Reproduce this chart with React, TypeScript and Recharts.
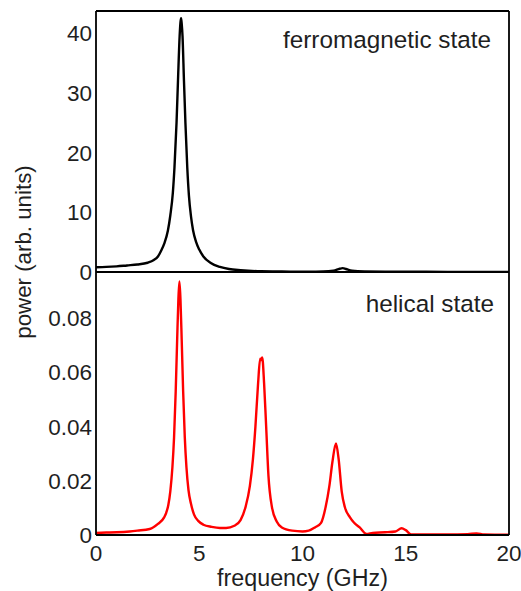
import { LineChart, Line, XAxis, YAxis } from 'recharts'

// ferromagnetic state spectrum (power vs GHz)
const ferroFreq = [
  0, 0.5, 1, 1.5, 2, 2.5, 2.8, 3.0, 3.16, 3.3, 3.48, 3.6, 3.72, 3.8, 3.9, 3.97, 4.05, 4.09, 4.12, 4.15,
  4.19, 4.26, 4.33, 4.42, 4.5, 4.6, 4.7, 4.85, 5.0, 5.2, 5.56, 6.0, 6.44, 7, 8, 9, 10, 11, 11.5, 11.8,
  11.95, 12.1, 12.4, 13, 14, 16, 18, 20,
]
const ferroPower = [
  0.8, 0.85, 0.95, 1.1, 1.25, 1.55, 2.0, 2.6, 3.6, 4.7, 6.9, 9.5, 13.2, 17.5, 25, 32, 39.5, 41.8, 42.5, 41.6,
  39.5, 32, 25, 17.5, 12.8, 9.3, 7.0, 5.0, 3.75, 2.6, 1.5, 0.85, 0.5, 0.3, 0.12, 0.08, 0.06, 0.08, 0.2, 0.55,
  0.65, 0.5, 0.2, 0.08, 0.05, 0.03, 0.02, 0.02,
]

// helical state spectrum
const helicalFreq = [
  0, 0.5, 1, 1.63, 2, 2.6, 3.0, 3.3, 3.4, 3.5, 3.6, 3.7, 3.78, 3.86, 3.93, 3.99, 4.04, 4.09, 4.15, 4.22,
  4.3, 4.38, 4.48, 4.6, 4.75, 4.95, 5.2, 5.6, 6.0, 6.3, 6.7, 7.0, 7.24, 7.45, 7.6, 7.72, 7.85, 7.95, 8.0, 8.05,
  8.14, 8.24, 8.35, 8.52, 8.75, 9.0, 9.5, 10, 10.3, 10.6, 10.9, 11.12, 11.3, 11.45, 11.62, 11.75, 11.9, 12.05, 12.3, 12.5,
  12.77, 13.1, 13.4, 14, 14.5, 14.8, 15.0, 15.26, 16, 17, 18, 18.43, 18.8, 20,
]
const helicalPower = [
  0.0008, 0.0009, 0.001, 0.0013, 0.0016, 0.0022, 0.0041, 0.0065, 0.0082, 0.011, 0.0162, 0.025, 0.036, 0.053, 0.072, 0.087, 0.0935, 0.087, 0.072, 0.053,
  0.036, 0.025, 0.0165, 0.0115, 0.0075, 0.0052, 0.0038, 0.003, 0.0026, 0.0026, 0.0034, 0.0055, 0.0103, 0.018, 0.028, 0.04, 0.056, 0.065, 0.0645, 0.0655,
  0.056, 0.04, 0.022, 0.0103, 0.005, 0.0028, 0.0016, 0.0013, 0.0016, 0.0028, 0.0045, 0.0103, 0.018, 0.027, 0.0338, 0.028, 0.016, 0.0103, 0.0065, 0.0045,
  0.0028, 0.0004, 0.0008, 0.001, 0.0013, 0.0025, 0.0018, 0.0002, 0.0002, 0.0002, 0.0003, 0.0006, 0.0002, 0.0001,
]

const freqTicks = [0, 5, 10, 15, 20]
const ferroTicks = [0, 10, 20, 30, 40]
const helicalTicks = [0, 0.02, 0.04, 0.06, 0.08]

const FONT = '"Liberation Sans", Arial, Helvetica, sans-serif'
const INK = '#1f1f1f'
const FRAME = '#000'

const toRows = (fs: number[], ps: number[]) => fs.map((f, i) => ({ f, p: ps[i] }))

interface PanelProps {
  rows: { f: number; p: number }[]
  color: string
  yMax: number
  yTicks: number[]
  height: number
  bottom: number
  top: number
  showX: boolean
}

function Panel({ rows, color, yMax, yTicks, height, bottom, top, showX }: PanelProps) {
  const axisLine = { stroke: FRAME, strokeWidth: 1.8 }
  const tickLine = { stroke: FRAME, strokeWidth: 1 }
  const tickText = { fill: INK, fontSize: 22.5, fontFamily: FONT }
  return (
    <div style={{ position: 'absolute', left: 0, top }}>
      <LineChart
        width={521}
        height={height}
        data={rows}
        margin={{ top: 11, right: 12, left: 36, bottom }}
      >
        {/* frame with inward ticks */}
        <XAxis xAxisId="in" type="number" dataKey="f" domain={[0, 20]} ticks={freqTicks} allowDataOverflow
          orientation="bottom" mirror tick={false} tickSize={5} axisLine={axisLine} tickLine={tickLine} />
        <XAxis xAxisId="topEdge" type="number" dataKey="f" domain={[0, 20]} ticks={freqTicks} allowDataOverflow
          orientation="top" mirror tick={false} tickSize={5} axisLine={axisLine} tickLine={tickLine} />
        <YAxis yAxisId="in" type="number" domain={[0, yMax]} ticks={yTicks} allowDataOverflow
          orientation="left" mirror tick={false} tickSize={5} axisLine={axisLine} tickLine={tickLine} />
        <YAxis yAxisId="rightEdge" type="number" domain={[0, yMax]} ticks={yTicks} allowDataOverflow
          orientation="right" mirror tick={false} tickSize={5} axisLine={axisLine} tickLine={tickLine} />
        {/* labels */}
        <YAxis yAxisId="lab" type="number" domain={[0, yMax]} ticks={yTicks} allowDataOverflow interval={0}
          orientation="left" width={60} axisLine={false} tickLine={false} tickSize={0} tickMargin={4}
          tick={tickText} />
        {showX && (
          <XAxis xAxisId="lab" type="number" dataKey="f" domain={[0, 20]} ticks={freqTicks} allowDataOverflow
            interval={0} orientation="bottom" height={30} axisLine={false} tickLine={false} tickSize={6}
            tickMargin={4} tick={tickText} />
        )}
        <Line
          xAxisId="in"
          yAxisId="in"
          type="monotone"
          dataKey="p"
          stroke={color}
          strokeWidth={2.4}
          dot={false}
          activeDot={false}
          isAnimationActive={false}
        />
      </LineChart>
    </div>
  )
}

export default function App() {
  return (
    <div style={{ position: 'absolute', left: 0, top: 0, width: 521, height: 591, background: '#fff' }}>
      <Panel rows={toRows(ferroFreq, ferroPower)} color="#000" yMax={43.7} yTicks={ferroTicks}
        height={290} bottom={18} top={0} showX={false} />
      <Panel rows={toRows(helicalFreq, helicalPower)} color="#ff0000" yMax={0.097} yTicks={helicalTicks}
        height={331} bottom={27} top={261} showX />
      <svg width={521} height={591} style={{ position: 'absolute', left: 0, top: 0, pointerEvents: 'none' }}>
        <g fill={INK} fontFamily={FONT}>
          <text x={491} y={48} fontSize={24.3} textAnchor="end">ferromagnetic state</text>
          <text x={494} y={312} fontSize={24.3} textAnchor="end">helical state</text>
          <text x={302.5} y={586} fontSize={23.3} textAnchor="middle">frequency (GHz)</text>
          <text x={31} y={252} fontSize={22.3} textAnchor="middle" transform="rotate(-90 31 252)">
            power (arb. units)
          </text>
        </g>
      </svg>
    </div>
  )
}
